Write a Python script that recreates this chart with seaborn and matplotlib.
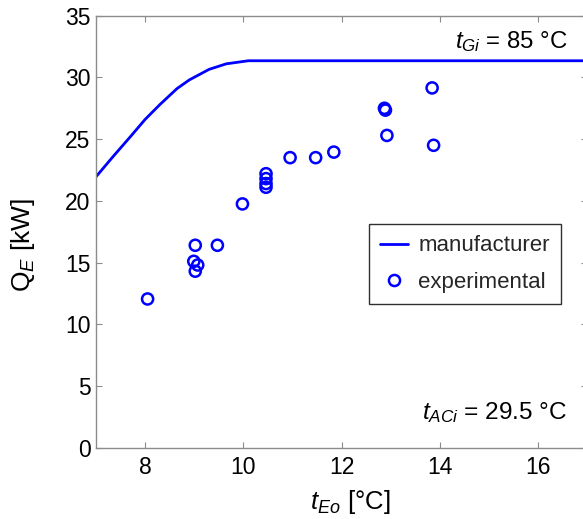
import numpy as np
import pandas as pd
import matplotlib
matplotlib.use("Agg")
import matplotlib.pyplot as plt
import seaborn as sns
from matplotlib.lines import Line2D

# Manufacturer curve
man_x = [7.0, 7.35, 7.7, 8.0, 8.3, 8.65, 8.9, 9.3, 9.65, 10.1, 17.5]
man_y = [21.95, 23.6, 25.2, 26.6, 27.8, 29.1, 29.8, 30.65, 31.1, 31.35, 31.35]

# Experimental points
exp_x = [8.05, 9.02, 9.47, 8.99, 9.07, 9.02, 9.98, 10.46, 10.46, 10.46, 10.46,
         10.95, 11.47, 11.84, 12.87, 12.89, 12.92, 13.84, 13.87]
exp_y = [12.05, 16.4, 16.4, 15.1, 14.8, 14.3, 19.75, 22.2, 21.8, 21.4, 21.1,
         23.5, 23.5, 23.95, 27.5, 27.35, 25.3, 29.15, 24.5]

x_ticks = [8, 10, 12, 14, 16]
y_ticks = [0, 5, 10, 15, 20, 25, 30, 35]

sns.set_theme(style="ticks")
plt.rcParams['font.family'] = ['Liberation Sans', 'DejaVu Sans']
plt.rcParams['mathtext.fontset'] = 'custom'
plt.rcParams['mathtext.rm'] = 'Liberation Sans'
plt.rcParams['mathtext.it'] = 'Liberation Sans:italic'
plt.rcParams['mathtext.bf'] = 'Liberation Sans:bold'

W, H = 583, 519
fig = plt.figure(figsize=(W / 100, H / 100), dpi=100)
left, right, top, bottom = 96.0, 587.4, 15.7, 447.7
ax = fig.add_axes([left / W, (H - bottom) / H, (right - left) / W, (bottom - top) / H])

df_man = pd.DataFrame({"x": man_x, "y": man_y})
df_exp = pd.DataFrame({"x": exp_x, "y": exp_y})

sns.lineplot(data=df_man, x="x", y="y", ax=ax, color="#0000ff", linewidth=2.0,
             sort=False, estimator=None, legend=False)
sns.scatterplot(data=df_exp, x="x", y="y", ax=ax, marker="o", s=64,
                facecolors="none", edgecolor="#0000ff", linewidth=1.8, legend=False,
                zorder=3)

ax.set_xlim(7, 17)
ax.set_ylim(0, 35)
ax.set_xticks(x_ticks)
ax.set_yticks(y_ticks)
ax.set_xticklabels([str(t) for t in x_ticks])
ax.set_yticklabels([str(t) for t in y_ticks])

for s in ax.spines.values():
    s.set_color("#8c8c8c")
    s.set_linewidth(1.0)
    s.set_visible(True)

ax.tick_params(axis="both", direction="in", length=4, width=0.8, color="#8c8c8c",
               labelsize=16.5, labelcolor="black", top=True, right=True)
ax.tick_params(axis="x", pad=6)
ax.tick_params(axis="y", pad=4)

ax.set_xlabel(r"$t_{Eo}$ [°C]", fontsize=18.5, color="black")
ax.set_ylabel(r"Q$_{E}$ [kW]", fontsize=19, color="black")
ax.xaxis.set_label_coords(0.517, -0.094)
ax.yaxis.set_label_coords(-0.12, 0.47)

ax.text(0.96, 0.925, r"$t_{Gi}$ = 85 °C", transform=ax.transAxes, fontsize=17.3,
        ha="right", va="baseline", color="black")
ax.text(0.96, 0.066, r"$t_{ACi}$ = 29.5 °C", transform=ax.transAxes, fontsize=17.6,
        ha="right", va="baseline", color="black")

handles = [
    Line2D([0], [0], color="#0000ff", linewidth=2.0),
    Line2D([0], [0], color="#0000ff", marker="o", linestyle="none", markersize=8,
           markerfacecolor="none", markeredgewidth=1.8),
]
leg = ax.legend(handles, ["manufacturer", "experimental"], loc="upper left",
                bbox_to_anchor=((369.3 - left) / (right - left), (bottom - 224.3) / (bottom - top)),
                borderaxespad=0, fontsize=16, frameon=True, fancybox=False,
                edgecolor="#303030", framealpha=1, handlelength=1.25, handletextpad=0.45,
                labelspacing=0.7, borderpad=0.5)
leg.get_frame().set_linewidth(1.0)

fig.savefig("out.png", dpi=100)
